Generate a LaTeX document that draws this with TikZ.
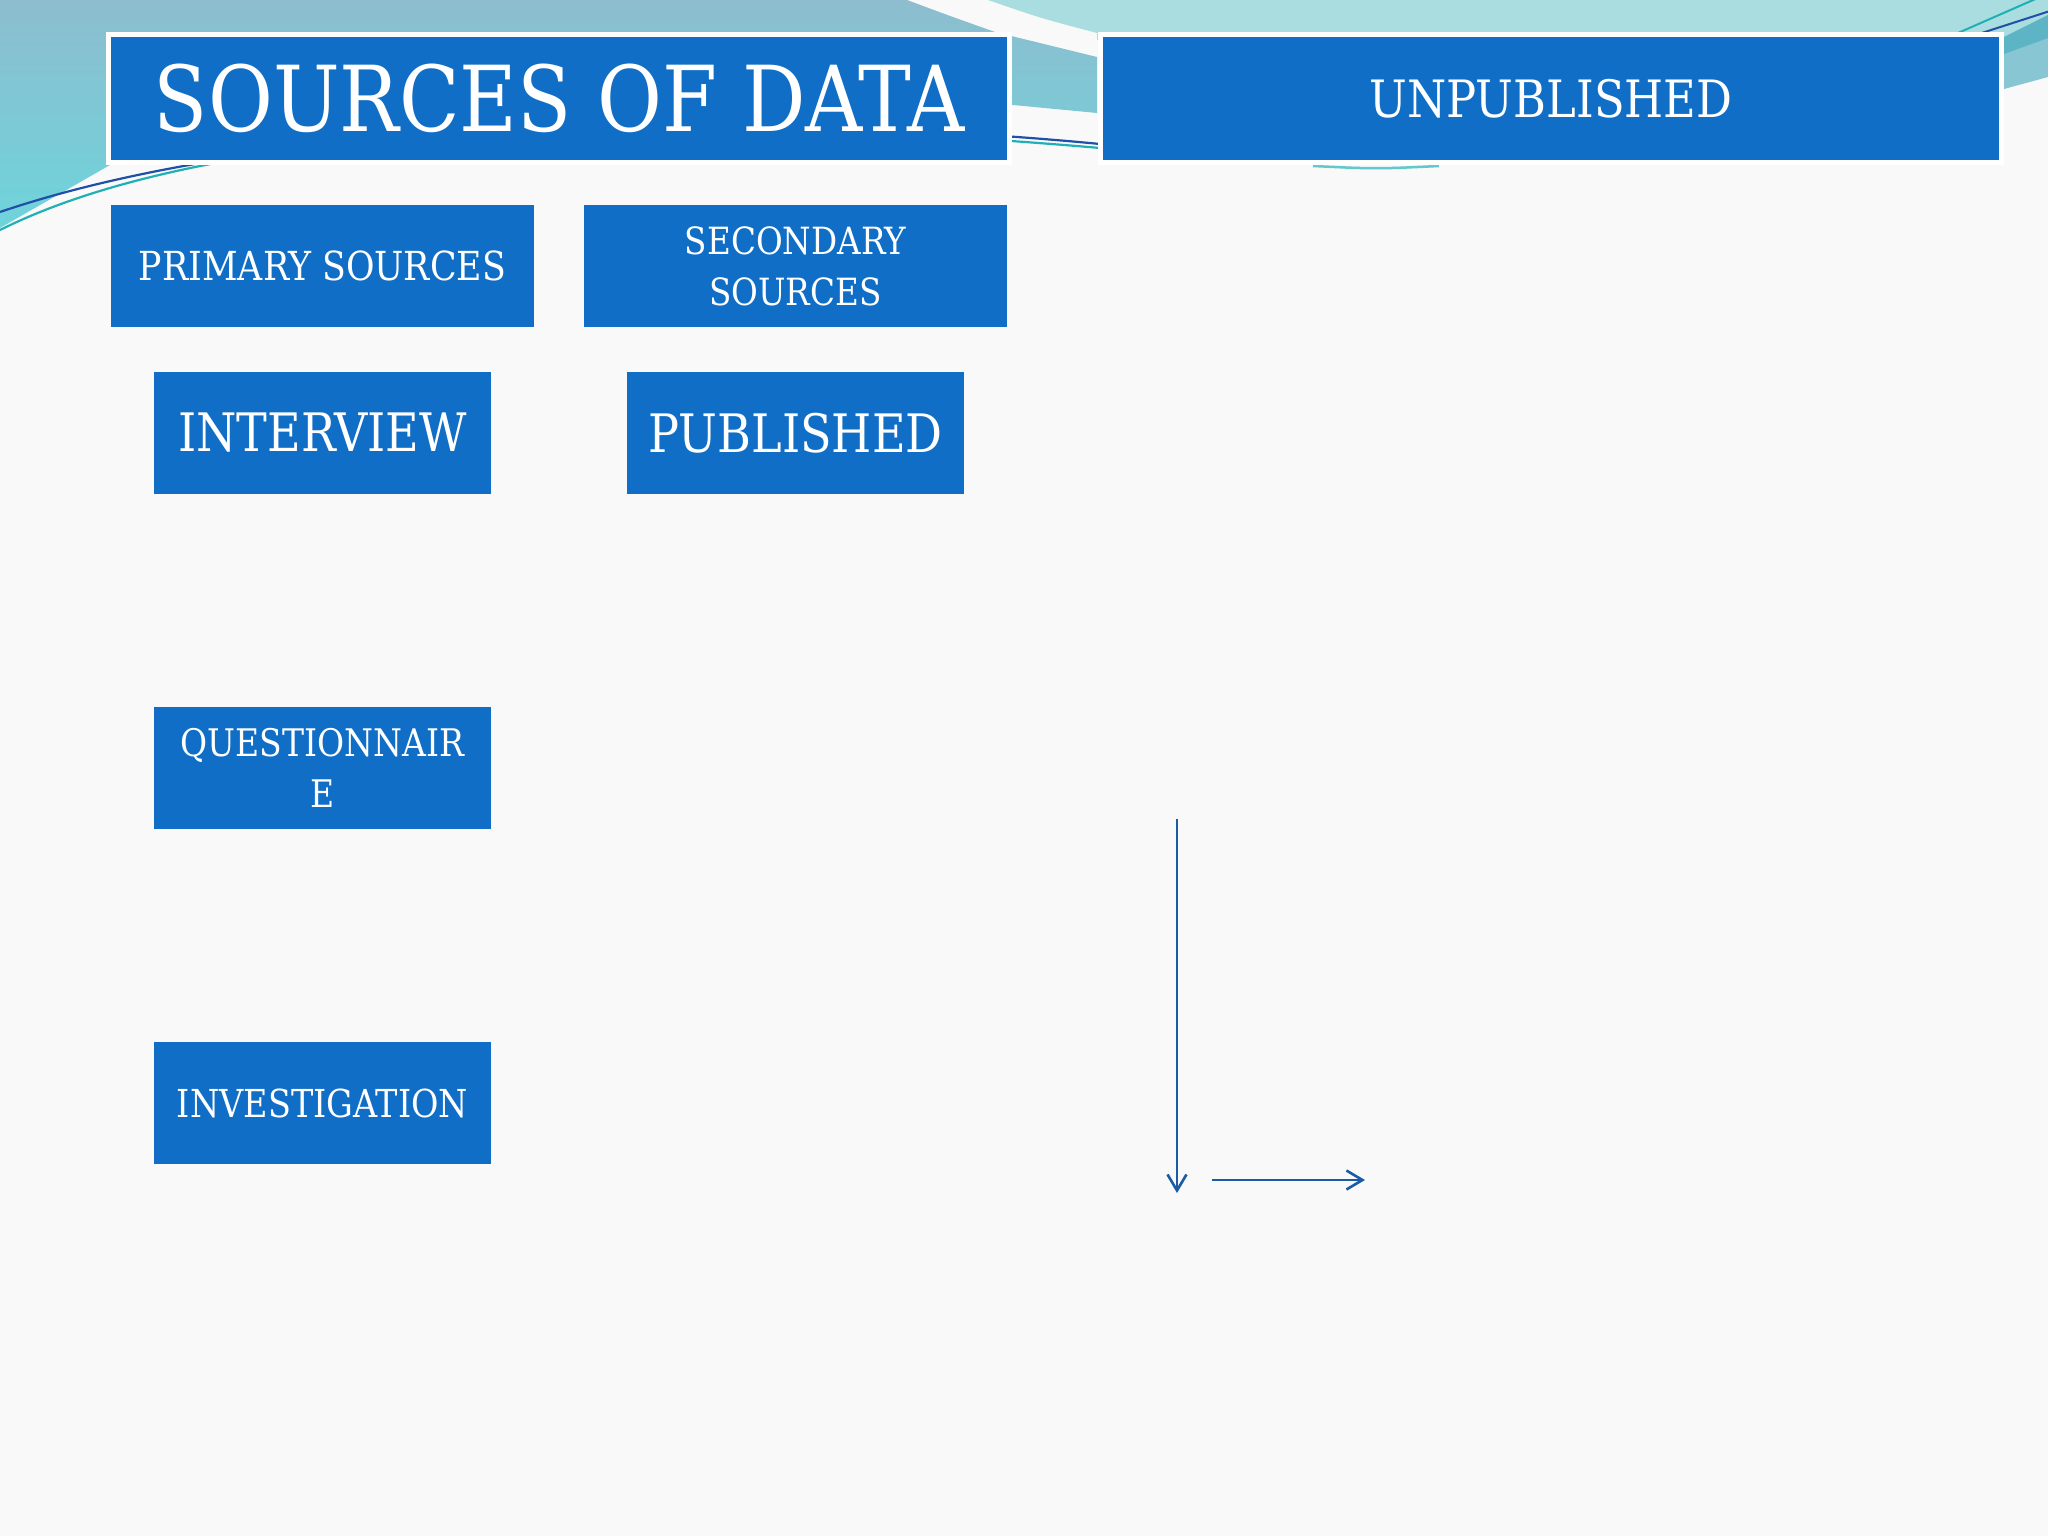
\documentclass[tikz,border=0pt]{standalone}
\usepackage{fontspec}
\setmainfont[FakeStretch=0.87]{DejaVu Serif}
\usetikzlibrary{arrows.meta}
\definecolor{boxblue}{HTML}{106EC7}
\definecolor{paper}{HTML}{F9F9F9}
\definecolor{greyblue}{HTML}{8DBDCF}
\definecolor{tealbot}{HTML}{6ED4DB}
\definecolor{lightteal}{HTML}{AADDE0}
\definecolor{slabdark}{HTML}{5CB4C5}
\definecolor{slablight}{HTML}{88C6D3}
\definecolor{linedark}{HTML}{1F4FA8}
\definecolor{lineteal}{HTML}{1FB0B6}
\definecolor{arrowblue}{HTML}{1A5BA3}
\begin{document}
\begin{tikzpicture}[x=1pt,y=-1pt,
  box/.style={fill=boxblue, text=white, inner sep=0pt, outer sep=0pt, align=center},
  headbox/.style={box, draw=white, line width=5pt, minimum width=901pt, minimum height=128pt},
  subbox/.style={box, minimum width=423pt, minimum height=122pt},
  itembox/.style={box, minimum width=337pt, minimum height=122pt},
  flowarrow/.style={draw=arrowblue, line width=2.6pt, -{Straight Barb[length=16pt,width=19pt,line width=2.6pt]}}
]
\useasboundingbox (0,0) rectangle (2048,1536);
% background
\fill[paper] (0,0) rectangle (2048,1536);
\shade[top color=greyblue, bottom color=tealbot]
  (0,0) -- (907,0) .. controls (950,16) .. (995,32) -- (1097,57) -- (1097,113)
  -- (1013,105) -- (600,140) -- (110,165) -- (0,228) -- cycle;
\fill[lightteal] (988,0) -- (2048,0) -- (2048,40) -- (1097,40) -- (1097,33) .. controls (1040,18) .. (988,0) -- cycle;
\fill[slablight] (2004,37) -- (2048,15) -- (2048,77) -- (2004,89) -- cycle;
\fill[slabdark] (2004,37) -- (2048,15) -- (2048,38) -- (2004,54) -- cycle;
% decorative lines
\draw[linedark, line width=2.2pt] (0,212) .. controls (300,110) and (800,115) .. (1100,144);
\draw[lineteal, line width=2.2pt] (0,230) .. controls (260,100) and (800,122) .. (1100,148);
\draw[lineteal, line width=2pt] (1942,40) -- (2040,-3);
\draw[linedark, line width=2pt] (1960,40) -- (2050,11);
\draw[lineteal!70, line width=2.5pt] (1313,166) .. controls (1376,169) .. (1439,166);
% boxes
\node[headbox, font=\fontsize{91}{110}\selectfont] (title) at (559,98.5) {SOURCES OF DATA};
\node[headbox, font=\fontsize{51.5}{60}\selectfont] (unpub) at (1551,98.5) {UNPUBLISHED};
\node[subbox, font=\fontsize{40}{51}\selectfont] (primary) at (322.5,266) {PRIMARY SOURCES};
\node[subbox, font=\fontsize{37.5}{51}\selectfont] (secondary) at (795.5,266) {SECONDARY\\SOURCES};
\node[itembox, font=\fontsize{53}{60}\selectfont] (interview) at (322.5,433) {INTERVIEW};
\node[itembox, font=\fontsize{53}{60}\selectfont] (published) at (795.5,433) {PUBLISHED};
\node[itembox, font=\fontsize{38}{51}\selectfont] (quest) at (322.5,768) {QUESTIONNAIR\\E};
\node[itembox, font=\fontsize{38.5}{51}\selectfont] (invest) at (322.5,1103) {INVESTIGATION};
% arrows
\coordinate (vtop) at (1177,819);
\coordinate (vbot) at (1177,1193);
\coordinate (hleft) at (1212,1180);
\coordinate (hright) at (1365,1180);
\draw[flowarrow] (vtop) -- (vbot);
\draw[flowarrow] (hleft) -- (hright);
\end{tikzpicture}
\end{document}
